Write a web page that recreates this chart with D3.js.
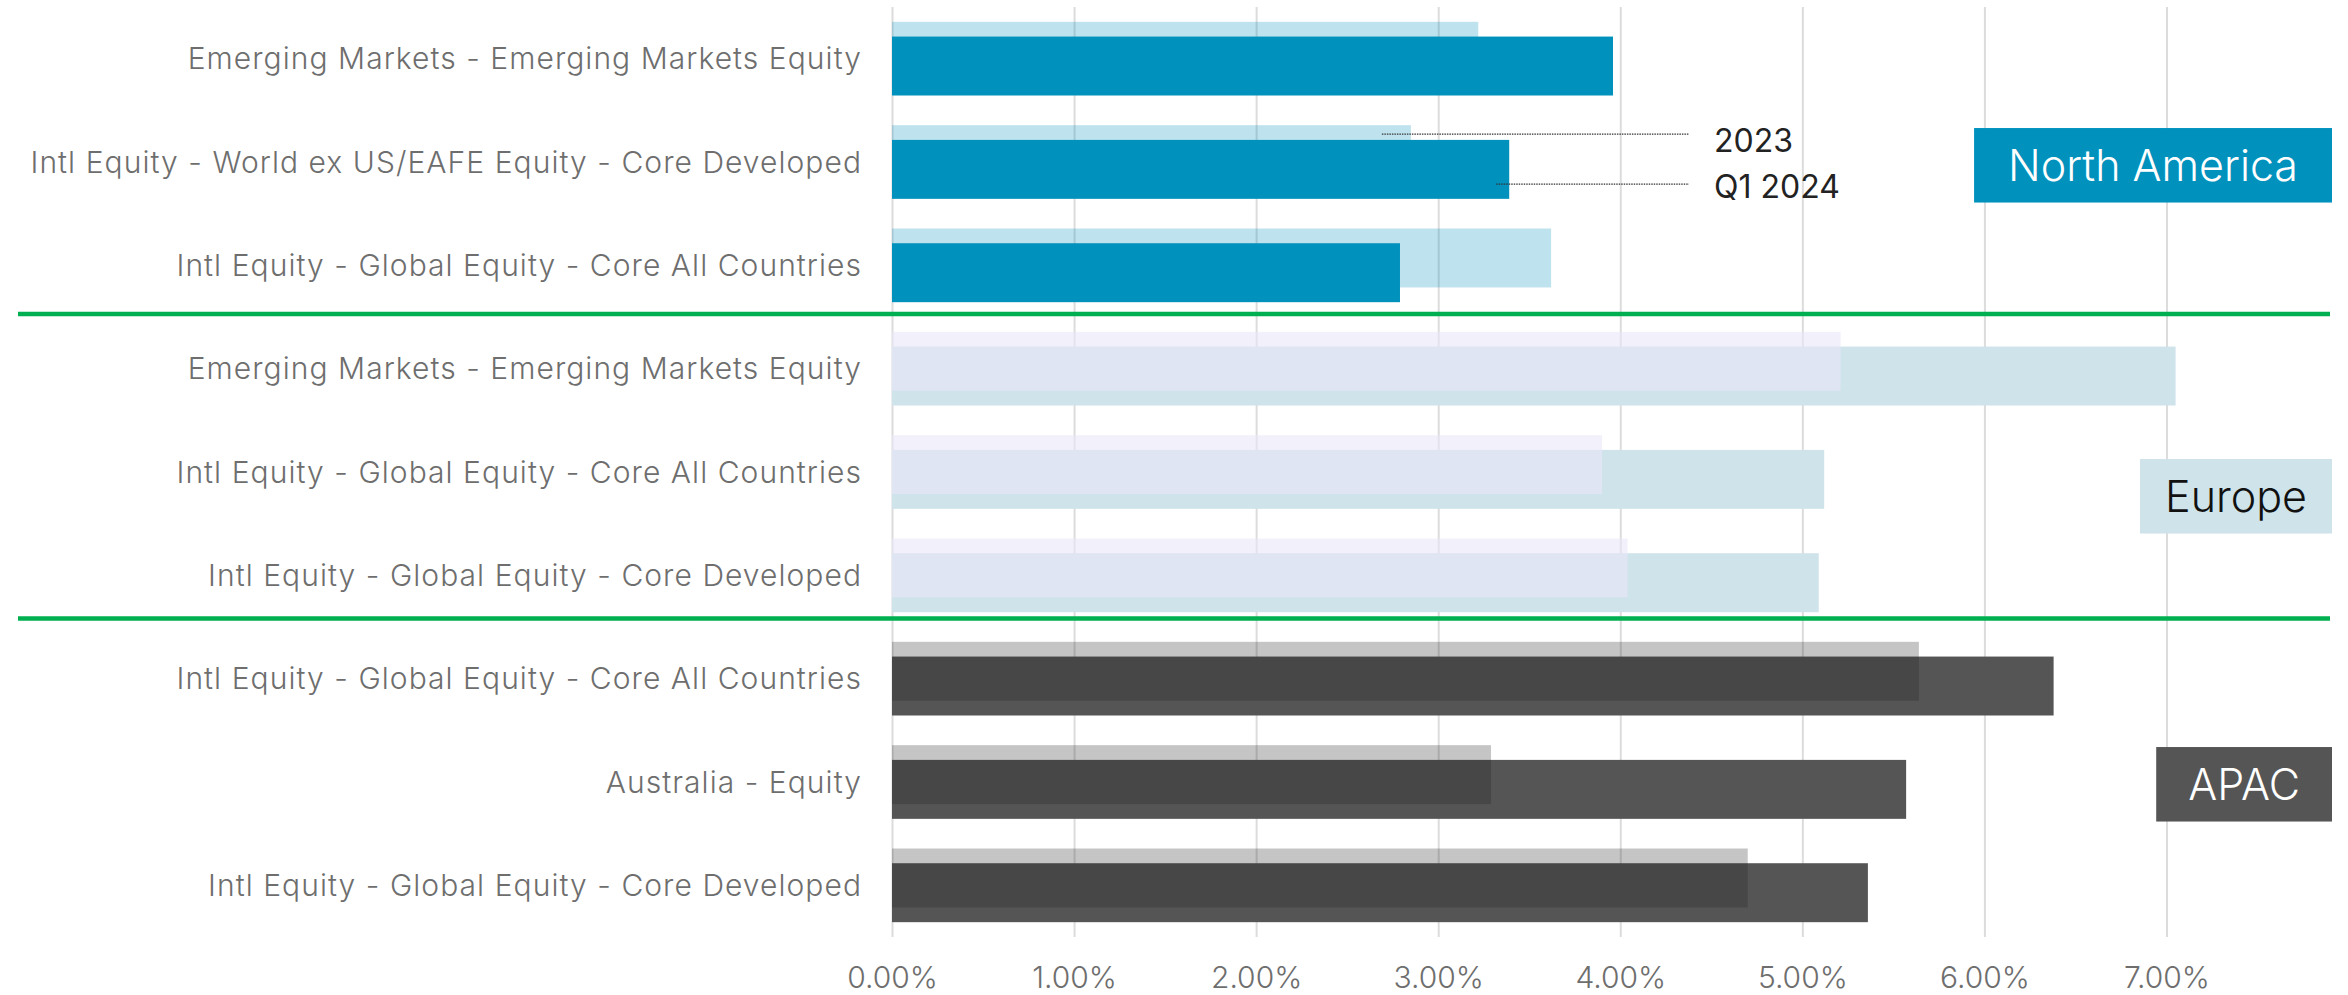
<!DOCTYPE html>
<html>
<head>
<meta charset="utf-8">
<script src="https://cdn.jsdelivr.net/npm/d3@7"></script>
<style>
  html, body { margin: 0; padding: 0; background: #ffffff; }
  svg { display: block; font-family: Inter, "Noto Sans", sans-serif; }
</style>
</head>
<body>
<svg id="chart" width="2348" height="995"></svg>
<script>
// ---------------- data ----------------
const categories = [
  "Emerging Markets - Emerging Markets Equity",
  "Intl Equity - World ex US/EAFE Equity - Core Developed",
  "Intl Equity - Global Equity - Core All Countries",
  "Emerging Markets - Emerging Markets Equity",
  "Intl Equity - Global Equity - Core All Countries",
  "Intl Equity - Global Equity - Core Developed",
  "Intl Equity - Global Equity - Core All Countries",
  "Australia - Equity",
  "Intl Equity - Global Equity - Core Developed"
];
const regionOfRow = ["North America", "North America", "North America",
                     "Europe", "Europe", "Europe",
                     "APAC", "APAC", "APAC"];
const regions = ["North America", "Europe", "APAC"];
const values2023 = [3.22, 2.85, 3.62, 5.21, 3.90, 4.04, 5.64, 3.29, 4.70];
const valuesQ12024 = [3.96, 3.39, 2.79, 7.05, 5.12, 5.09, 6.38, 5.57, 5.36];
const seriesNames = ["2023", "Q1 2024"];
const tickValues = [0, 1, 2, 3, 4, 5, 6, 7];

// ---------------- styles ----------------
const regionStyle = {
  "North America": { q1: "#0091BD", q1Op: 1, y23: "#0091BD", y23Op: 0.25, q1OnTop: true,
                     boxFill: "#0091BD", boxText: "#ffffff", pad: 34, boxRow: 1, boxOff: 17.7 },
  "Europe":        { q1: "#CFE3EB", q1Op: 1, y23: "#E9E6F7", y23Op: 0.6, q1OnTop: false,
                     boxFill: "#CFE3EB", boxText: "#111111", pad: 25, boxRow: 4, boxOff: 38.7 },
  "APAC":          { q1: "#555555", q1Op: 1, y23: "#1F1F1F", y23Op: 0.26, q1OnTop: false,
                     boxFill: "#555555", boxText: "#ffffff", pad: 32, boxRow: 7, boxOff: 16.7 }
};

const svg = d3.select("#chart");
const plotTop = 7, plotBottom = 937;

const x = d3.scaleLinear().domain([0, 7]).range([892, 892 + 7 * 182.07]);
const y = d3.scaleBand().domain(d3.range(categories.length))
  .range([plotTop, plotBottom]).paddingInner(0.287).paddingOuter(0.1435);
const bw = y.bandwidth();
const barH = bw * 0.8;
const q1Off = bw * 0.2;

// gridlines + axis
const axis = d3.axisBottom(x)
  .tickValues(tickValues)
  .tickFormat(d => d.toFixed(2) + "%")
  .tickSizeInner(-(plotBottom - plotTop))
  .tickSizeOuter(0)
  .tickPadding(30);
const gAxis = svg.append("g").attr("transform", `translate(0,${plotBottom})`).call(axis);
gAxis.select(".domain").remove();
gAxis.selectAll(".tick line").attr("stroke", "#DCDCDC").attr("stroke-width", 2);
gAxis.selectAll(".tick text")
  .attr("fill", "#6E6E6E")
  .style("font-family", "Inter, sans-serif")
  .style("font-weight", 300)
  .style("font-size", "30px");

// bars
const rows = categories.map((c, i) => ({ i, cat: c, region: regionOfRow[i], v23: values2023[i], vq1: valuesQ12024[i] }));
const gBars = svg.append("g");
rows.forEach(r => {
  const st = regionStyle[r.region];
  const y0 = y(r.i);
  const draw23 = () => gBars.append("rect")
    .attr("x", x(0)).attr("y", y0)
    .attr("width", x(r.v23) - x(0)).attr("height", barH)
    .attr("fill", st.y23).attr("fill-opacity", st.y23Op);
  const drawQ1 = () => gBars.append("rect")
    .attr("x", x(0)).attr("y", y0 + q1Off)
    .attr("width", x(r.vq1) - x(0)).attr("height", barH)
    .attr("fill", st.q1).attr("fill-opacity", st.q1Op);
  if (st.q1OnTop) { draw23(); drawQ1(); } else { drawQ1(); draw23(); }
});

// category labels
svg.append("g").selectAll("text").data(rows).join("text")
  .attr("x", 862)
  .attr("y", d => y(d.i) + bw / 2)
  .attr("dy", "0.36em")
  .attr("text-anchor", "end")
  .attr("fill", "#6E6E6E")
  .style("font-weight", 300)
  .style("font-size", "30px")
  .style("letter-spacing", "1.05px")
  .text(d => d.cat);

// region separators (green)
const sepAfter = [2, 5];
const sepOff = [11.8, 6.3];
sepAfter.forEach((ri, k) => {
  const yy = y(ri) + bw + sepOff[k];
  svg.append("line").attr("x1", 18).attr("x2", 2330)
    .attr("y1", yy).attr("y2", yy)
    .attr("stroke", "#00B050").attr("stroke-width", 4.5);
});

// legend annotation with dotted leader lines (on row 1)
const legRow = 1;
const legendX = 1714;
const leaders = [
  { name: seriesNames[0], xStart: x(values2023[legRow]) - 29, yLine: y(legRow) + 9, yText: 152 },
  { name: seriesNames[1], xStart: x(valuesQ12024[legRow]) - 13, yLine: y(legRow) + 59, yText: 198 }
];
leaders.forEach(l => {
  svg.append("line").attr("x1", l.xStart).attr("x2", 1689)
    .attr("y1", l.yLine).attr("y2", l.yLine)
    .attr("stroke", "#333333").attr("stroke-width", 1.2)
    .attr("stroke-dasharray", "1.5,1");
  svg.append("text").attr("x", legendX).attr("y", l.yText)
    .attr("fill", "#222222")
    .style("font-size", "32px").style("font-weight", 400)
    .text(l.name);
});

// region label boxes
const boxRight = 2332, boxH = 74.5;
regions.forEach(name => {
  const st = regionStyle[name];
  const g = svg.append("g");
  const top = y(st.boxRow) - y.paddingOuter() * y.step() + st.boxOff;
  const rect = g.append("rect").attr("fill", st.boxFill);
  const t = g.append("text")
    .attr("text-anchor", "middle")
    .attr("fill", st.boxText)
    .style("font-size", "43px").style("font-weight", 300)
    .text(name);
  const tw = t.node().getComputedTextLength();
  const bwid = tw + 2 * st.pad;
  rect.attr("x", boxRight - bwid).attr("y", top).attr("width", bwid).attr("height", boxH);
  t.attr("x", boxRight - bwid / 2).attr("y", top + boxH / 2).attr("dy", "0.36em");
});
</script>
</body>
</html>
